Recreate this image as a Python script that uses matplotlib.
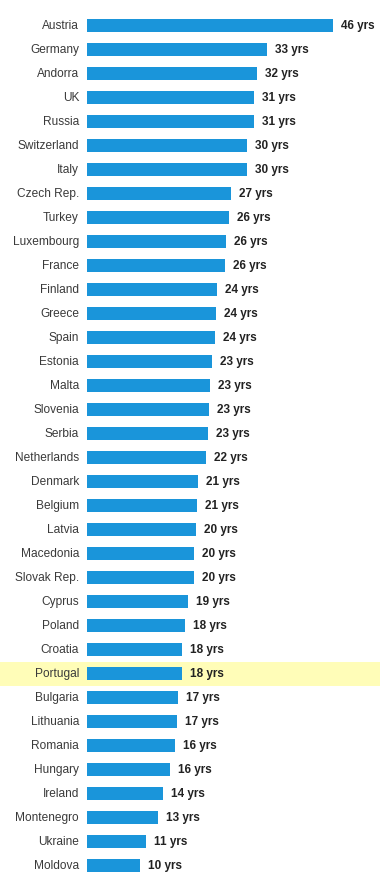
import matplotlib
matplotlib.use("Agg")
import matplotlib.pyplot as plt

countries = ["Austria", "Germany", "Andorra", "UK", "Russia", "Switzerland", "Italy",
             "Czech Rep.", "Turkey", "Luxembourg", "France", "Finland", "Greece", "Spain",
             "Estonia", "Malta", "Slovenia", "Serbia", "Netherlands", "Denmark", "Belgium",
             "Latvia", "Macedonia", "Slovak Rep.", "Cyprus", "Poland", "Croatia", "Portugal",
             "Bulgaria", "Lithuania", "Romania", "Hungary", "Ireland", "Montenegro",
             "Ukraine", "Moldova"]
values = [46.0, 33.7, 31.8, 31.2, 31.2, 30.0, 29.9, 26.9, 26.5, 26.0, 25.8, 24.4, 24.1,
          23.9, 23.4, 23.0, 22.8, 22.6, 22.3, 20.7, 20.5, 20.3, 20.1, 20.1, 18.8, 18.3,
          17.7, 17.8, 17.0, 16.8, 16.4, 15.6, 14.3, 13.2, 11.0, 10.0]
labels = ["46 yrs", "33 yrs", "32 yrs", "31 yrs", "31 yrs", "30 yrs", "30 yrs", "27 yrs",
          "26 yrs", "26 yrs", "26 yrs", "24 yrs", "24 yrs", "24 yrs", "23 yrs", "23 yrs",
          "23 yrs", "23 yrs", "22 yrs", "21 yrs", "21 yrs", "20 yrs", "20 yrs", "20 yrs",
          "19 yrs", "18 yrs", "18 yrs", "18 yrs", "17 yrs", "17 yrs", "16 yrs", "16 yrs",
          "14 yrs", "13 yrs", "11 yrs", "10 yrs"]
highlight = "Portugal"

plt.rcParams['font.family'] = ['Liberation Sans', 'DejaVu Sans']

W, H = 384, 893
fig = plt.figure(figsize=(W / 100, H / 100), dpi=100)
fig.patch.set_facecolor('white')

n = len(countries)
px_per_unit = 246 / 46.0
left_px = 87
top_px = 13.5
row_px = (866 - 25.9) / (n - 1)
bottom_px = top_px + row_px * n
ax = fig.add_axes([0, 1 - bottom_px / H, 380 / W, (bottom_px - top_px) / H])
ax.set_xlim(-left_px / px_per_unit, (380 - left_px) / px_per_unit)
ax.set_ylim(n - 0.5, -0.5)
ax.axis('off')

ypos = list(range(n))
hi = countries.index(highlight)
ax.axhspan(hi - 0.5, hi + 0.5, color='#FFFDB8', zorder=0, lw=0)

ax.barh(ypos, values, height=0.57, color='#1A95DA', zorder=2)

for i, (c, v, lab) in enumerate(zip(countries, values, labels)):
    ax.annotate(c, xy=(0, i), xytext=(-8, 0), textcoords='offset pixels',
                ha='right', va='center', fontsize=8.6, color='#3a3a3a')
    ax.annotate(lab, xy=(v, i), xytext=(8, 0), textcoords='offset pixels',
                ha='left', va='center', fontsize=8.5, color='#222222', fontweight='bold')

fig.savefig('out.png', dpi=100, facecolor='white')
